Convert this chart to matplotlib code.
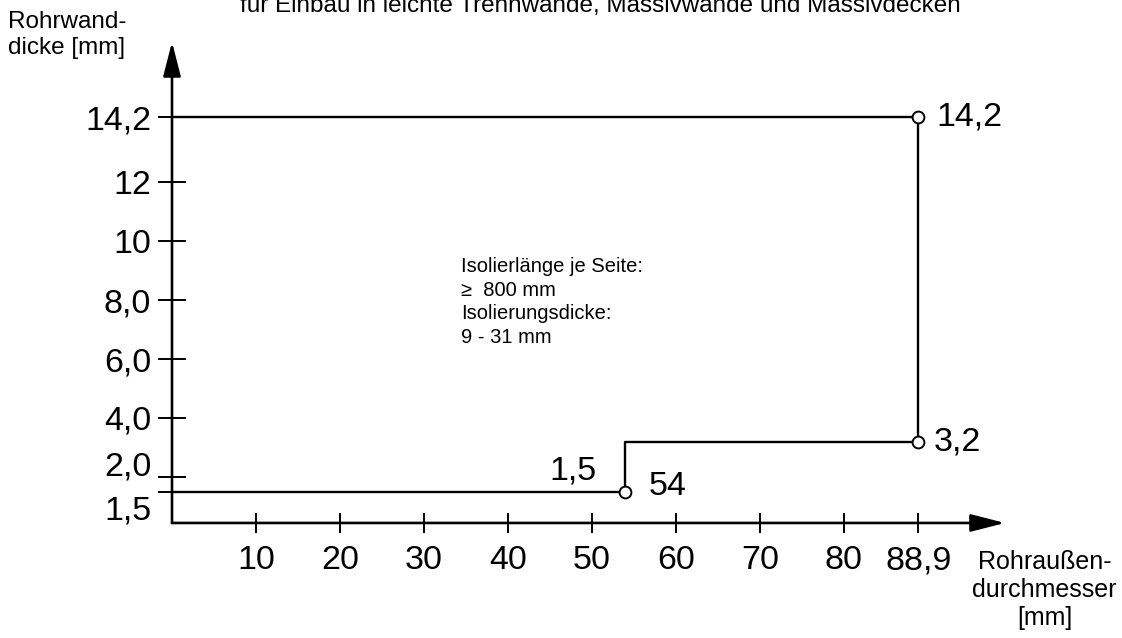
import matplotlib
matplotlib.use("Agg")
import matplotlib.pyplot as plt

plt.rcParams['font.family'] = ['Liberation Sans', 'DejaVu Sans']

# Einsatzbereich: Rohraußendurchmesser [mm] / Rohrwanddicke [mm]
outer_d = [0, 54, 54, 88.9, 88.9, 0]
wall = [1.5, 1.5, 3.2, 3.2, 14.2, 14.2]

point_d = [54, 88.9, 88.9]
point_wall = [1.5, 3.2, 14.2]

x_ticks = [10, 20, 30, 40, 50, 60, 70, 80, 88.9]
x_labels = ['10', '20', '30', '40', '50', '60', '70', '80', '88,9']
y_ticks = [1.5, 2.0, 4.0, 6.0, 8.0, 10, 12, 14.2]
y_labels = ['', '', '4,0', '6,0', '8,0', '10', '12', '14,2']

fs = 24.5

fig = plt.figure(figsize=(11.22, 6.38), dpi=100)
ax = fig.add_axes([0.1533, 0.1803, 0.7424, 0.7539])
ax.set_xlim(0, 99.2)
ax.set_ylim(0.44, 16.75)
for s in ax.spines.values():
    s.set_visible(False)

# Achsen mit Pfeilspitzen
arrow = dict(arrowstyle='-|>,head_length=21,head_width=5.4', mutation_scale=1,
             color='black', lw=1.9, shrinkA=0, shrinkB=0)
ax.annotate('', xy=(1, 0), xytext=(0, 0), xycoords='axes fraction',
            textcoords='axes fraction', arrowprops=arrow, annotation_clip=False)
ax.annotate('', xy=(0, 1), xytext=(0, 0), xycoords='axes fraction',
            textcoords='axes fraction', arrowprops=arrow, annotation_clip=False)

ax.set_xticks(x_ticks, x_labels, fontsize=fs)
ax.set_yticks(y_ticks, y_labels, fontsize=fs)
ax.tick_params(axis='x', direction='inout', length=14.4, width=1.4, pad=9)
ax.tick_params(axis='y', direction='inout', length=20, width=1.4, pad=5)

# verschobene Beschriftungen unten an der y-Achse
ax.annotate('2,0', xy=(0, 2.0), xytext=(-15, 7), textcoords='offset points',
            ha='right', va='center', fontsize=fs)
ax.annotate('1,5', xy=(0, 1.5), xytext=(-15, -14), textcoords='offset points',
            ha='right', va='center', fontsize=fs)

ax.plot(outer_d, wall, color='black', lw=1.7, clip_on=False)
ax.plot(point_d, point_wall, 'o', ms=8.5, mfc='white', mec='black', mew=1.4,
        clip_on=False)

ax.annotate('14,2', xy=(88.9, 14.2), xytext=(13, 0), textcoords='offset points',
            ha='left', va='center', fontsize=fs)
ax.annotate('3,2', xy=(88.9, 3.2), xytext=(11, 0), textcoords='offset points',
            ha='left', va='center', fontsize=fs)
ax.annotate('54', xy=(54, 1.5), xytext=(17, 4), textcoords='offset points',
            ha='left', va='center', fontsize=fs)
ax.annotate('1,5', xy=(54, 1.5), xytext=(-38, 15), textcoords='offset points',
            ha='center', va='center', fontsize=fs)

ax.text(34.4, 9.45, 'Isolierlänge je Seite:\n\u2265  800 mm\nIsolierungsdicke:\n9 - 31 mm',
        ha='left', va='top', fontsize=14.5, linespacing=1.3)

fig.text(0.007, 0.945, 'Rohrwand-\ndicke [mm]', ha='left', va='center',
         fontsize=17.5, linespacing=1.25)
fig.text(0.931, 1 - 550 / 638, 'Rohraußen-\ndurchmesser\n[mm]', ha='center', va='top',
         fontsize=18, linespacing=1.2, multialignment='center')
fig.text(0.535, 1 - 12 / 638, 'für Einbau in leichte Trennwände, Massivwände und Massivdecken',
         ha='center', va='baseline', fontsize=17.5)

fig.savefig('out.png', dpi=100)
